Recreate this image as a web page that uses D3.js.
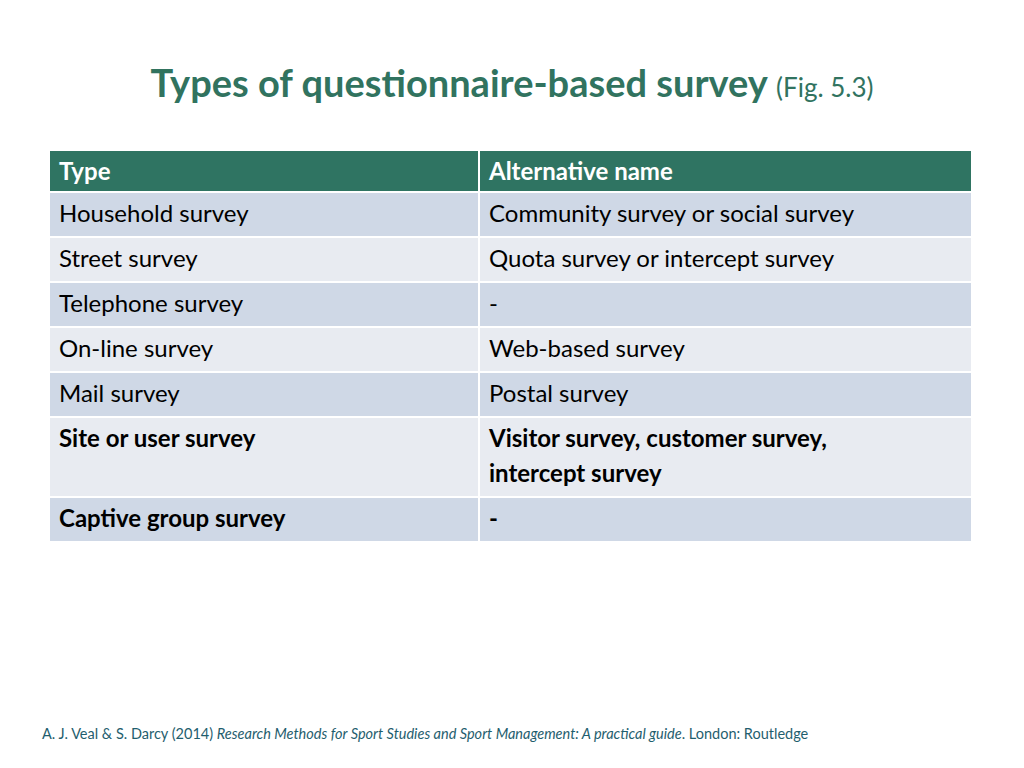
<!DOCTYPE html>
<html><head><meta charset="utf-8">
<script src="https://cdn.jsdelivr.net/npm/d3@7"></script>
<style>body{margin:0;background:#fff}</style></head>
<body><svg id="c" width="1024" height="768"></svg>
<script>
const header = ["Type", "Alternative name"];
const types = ["Household survey","Street survey","Telephone survey","On-line survey","Mail survey","Site or user survey","Captive group survey"];
const altNames = [["Community survey or social survey"],["Quota survey or intercept survey"],["-"],["Web-based survey"],["Postal survey"],["Visitor survey, customer survey,","intercept survey"],["-"]];
const boldRows = [false,false,false,false,false,true,true];

const svg = d3.select("#c");
const F = "Lato, 'Open Sans', sans-serif";
const t = svg.append("text").attr("x",512).attr("y",97).attr("text-anchor","middle")
  .attr("font-family",F).attr("fill","#31735F");
t.append("tspan").attr("font-size",38).attr("font-weight","bold").text("Types of questionnaire-based survey ");
t.append("tspan").attr("font-size",26).text("(Fig. 5.3)");

const x0=50, x1=478, x2=971, gap=2;
const heights=[40,...altNames.map(a=>a.length*35+8)];
let y=151;
const rowsY=heights.map(h=>{const r=y; y+=h+gap; return r;});
const cols=[[x0,x1],[x1+2,x2]];
// header
cols.forEach((c,i)=>{
  svg.append("rect").attr("x",c[0]).attr("y",rowsY[0]).attr("width",c[1]-c[0]).attr("height",heights[0]).attr("fill","#2F7462");
  svg.append("text").attr("x",c[0]+9).attr("y",rowsY[0]+29).attr("font-family",F).attr("font-size",24)
   .attr("font-weight","bold").attr("fill","#fff").text(header[i]);
});
types.forEach((tp,i)=>{
  const ry=rowsY[i+1], h=heights[i+1];
  const fill = i%2===0 ? "#CFD8E6" : "#E8EBF1";
  const texts=[[tp],altNames[i]];
  cols.forEach((c,j)=>{
    svg.append("rect").attr("x",c[0]).attr("y",ry).attr("width",c[1]-c[0]).attr("height",h).attr("fill",fill);
    texts[j].forEach((s,k)=>svg.append("text").attr("x",c[0]+9).attr("y",ry+29+k*35)
      .attr("font-family",F).attr("font-size",24).attr("font-weight",boldRows[i]?"bold":"normal")
      .attr("fill","#000").text(s));
  });
});
const f = svg.append("text").attr("x",42).attr("y",739).attr("font-family",F).attr("font-size",14.5).attr("fill","#1F5E6E");
f.append("tspan").text("A. J. Veal & S. Darcy (2014) ");
f.append("tspan").attr("font-style","italic").text("Research Methods for Sport Studies and Sport Management: A practical guide");
f.append("tspan").text(". London: Routledge");
</script></body></html>
